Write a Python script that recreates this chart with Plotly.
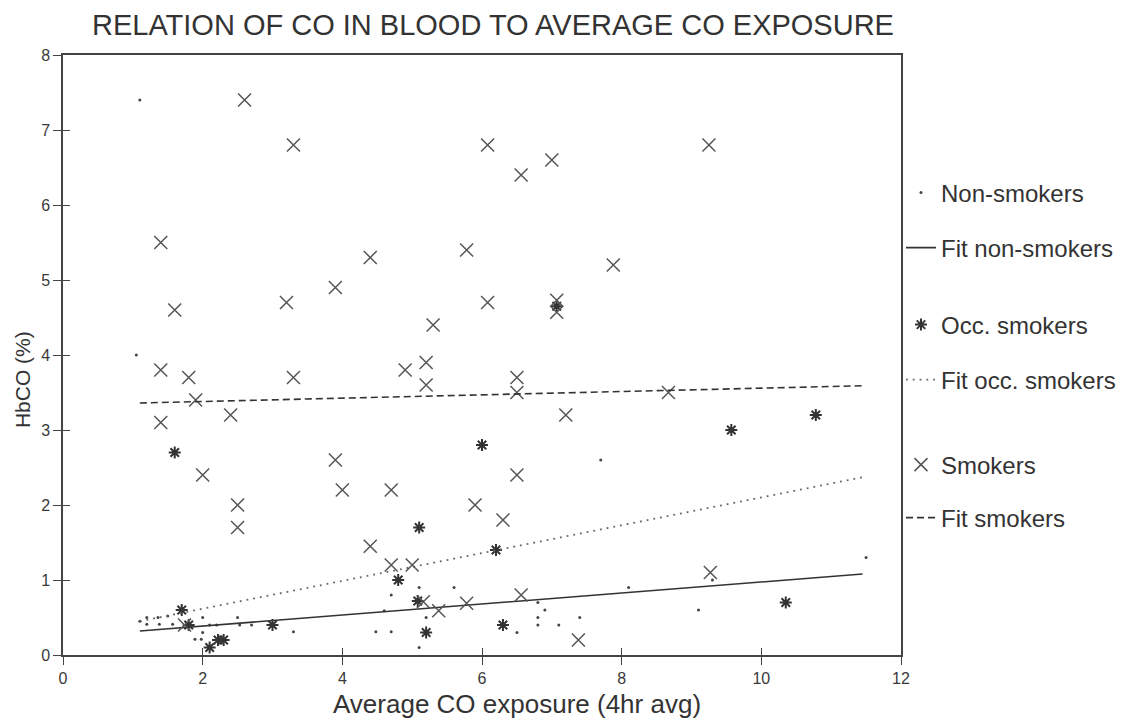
import plotly.graph_objects as go

# ---------------- data ----------------
non_x = [1.1, 1.05, 1.1, 1.2, 1.2, 1.36, 1.38, 1.5, 1.57, 2.0, 1.89, 1.98, 2.0, 2.1, 2.2,
         2.5, 2.53, 2.7, 3.3, 4.6, 4.7, 4.48, 4.7, 5.1, 5.6, 5.2, 5.1, 6.5, 6.8, 6.9,
         6.8, 6.8, 7.1, 7.4, 8.1, 9.1, 9.3, 11.5, 7.7]
non_y = [7.4, 4.0, 0.45, 0.5, 0.41, 0.5, 0.41, 0.52, 0.41, 0.5, 0.21, 0.21, 0.3, 0.4, 0.4,
         0.5, 0.4, 0.4, 0.31, 0.59, 0.8, 0.31, 0.31, 0.9, 0.9, 0.5, 0.1, 0.3, 0.7, 0.6,
         0.5, 0.4, 0.4, 0.5, 0.9, 0.6, 1.0, 1.3, 2.6]

occ_x = [1.6, 1.7, 1.8, 2.1, 2.22, 2.3, 3.0, 4.8, 5.1, 5.08, 5.2, 6.0, 6.2, 6.3, 7.07,
         9.57, 10.35, 10.78]
occ_y = [2.7, 0.6, 0.4, 0.1, 0.2, 0.2, 0.4, 1.0, 1.7, 0.72, 0.3, 2.8, 1.4, 0.4, 4.65,
         3.0, 0.7, 3.2]

smk_x = [1.4, 1.4, 1.4, 1.6, 1.8, 1.9, 2.0, 2.4, 2.5, 2.5, 2.6, 3.2, 3.3, 3.3, 3.9, 3.9,
         4.0, 4.4, 4.4, 4.7, 4.7, 4.9, 5.0, 5.2, 5.2, 5.3, 5.16, 5.38, 5.78, 5.78, 5.9,
         6.08, 6.08, 6.3, 6.5, 6.5, 6.5, 6.56, 6.56, 7.0, 7.07, 7.07, 7.2, 7.38, 7.88,
         8.67, 9.25, 9.27, 1.74]
smk_y = [5.5, 3.8, 3.1, 4.6, 3.7, 3.4, 2.4, 3.2, 2.0, 1.7, 7.4, 4.7, 6.8, 3.7, 4.9, 2.6,
         2.2, 5.3, 1.45, 2.2, 1.2, 3.8, 1.2, 3.9, 3.6, 4.4, 0.71, 0.59, 0.69, 5.4, 2.0,
         6.8, 4.7, 1.8, 3.7, 3.5, 2.4, 6.4, 0.8, 6.6, 4.73, 4.57, 3.2, 0.2, 5.2,
         3.5, 6.8, 1.1, 0.4]

fit_x = [1.1, 11.45]
fit_non = [0.32, 1.08]
fit_occ = [0.45, 2.37]
fit_smk = [3.36, 3.59]

x_ticks = [0, 2, 4, 6, 8, 10, 12]
y_ticks = [0, 1, 2, 3, 4, 5, 6, 7, 8]

# ---------------- figure ----------------
FONT = "Liberation Sans, Arial, sans-serif"
INK = "#3a3a3a"

fig = go.Figure()

fig.add_trace(go.Scatter(x=non_x, y=non_y, mode="markers", name="Non-smokers",
                         marker=dict(symbol="circle", size=3, color="#444"),
                         legend="legend"))
fig.add_trace(go.Scatter(x=fit_x, y=fit_non, mode="lines", name="Fit non-smokers",
                         line=dict(color="#333", width=1.6, dash="solid"),
                         legend="legend2"))
fig.add_trace(go.Scatter(x=occ_x, y=occ_y, mode="markers", name="Occ. smokers",
                         marker=dict(symbol="asterisk-open", size=10, color="#333",
                                     line=dict(color="#333", width=2)),
                         legend="legend3"))
fig.add_trace(go.Scatter(x=fit_x, y=fit_occ, mode="lines", name="Fit occ. smokers",
                         line=dict(color="#666", width=1.8, dash="1.8px,5px"),
                         legend="legend4"))
fig.add_trace(go.Scatter(x=smk_x, y=smk_y, mode="markers", name="Smokers",
                         marker=dict(symbol="x-thin-open", size=13, color="#555",
                                     line=dict(color="#555", width=1.5)),
                         legend="legend5"))
fig.add_trace(go.Scatter(x=fit_x, y=fit_smk, mode="lines", name="Fit smokers",
                         line=dict(color="#333", width=1.6, dash="7px,4px"),
                         legend="legend6"))
# invisible trace so the overlay (inside-tick) axes are drawn
fig.add_trace(go.Scatter(x=[], y=[], xaxis="x2", yaxis="y2", showlegend=False,
                         hoverinfo="skip"))

axis_common = dict(showgrid=False, zeroline=False, linecolor="#444", linewidth=1.5,
                   ticks="outside", ticklen=8, tickwidth=1.3, tickcolor="#444",
                   tickfont=dict(family=FONT, size=16, color=INK))

fig.update_layout(
    width=1133, height=722,
    margin=dict(l=63, r=230, t=55, b=67),
    paper_bgcolor="white", plot_bgcolor="white",
    showlegend=True,
    title=dict(text="RELATION OF CO IN BLOOD TO AVERAGE CO EXPOSURE",
               font=dict(family=FONT, size=29, color="#333"),
               x=(494 - 63) / 840, xref="paper", xanchor="center",
               y=1 - 25 / 722, yref="container", yanchor="middle"),
    xaxis=dict(range=[0, 12], tickvals=x_ticks, mirror=True, showline=True, **axis_common),
    yaxis=dict(range=[0, 8], tickvals=y_ticks, mirror=True, showline=True, **axis_common),
    xaxis2=dict(range=[0, 12], tickvals=x_ticks, overlaying="x", anchor="y2",
                showline=False, showgrid=False, zeroline=False, showticklabels=False,
                ticks="inside", ticklen=7, tickwidth=1.3, tickcolor="#444"),
    yaxis2=dict(range=[0, 8], tickvals=y_ticks, overlaying="y", anchor="x2",
                showline=False, showgrid=False, zeroline=False, showticklabels=False,
                ticks="inside", ticklen=7, tickwidth=1.3, tickcolor="#444"),
    annotations=[
        dict(text="Average CO exposure (4hr avg)", xref="paper", yref="paper",
             x=(518 - 63) / 840, y=(655 - 704) / 600, xanchor="center", yanchor="middle",
             showarrow=False, font=dict(family=FONT, size=26, color="#333")),
        dict(text="HbCO (%)", xref="paper", yref="paper", textangle=-90,
             x=(22 - 63) / 840, y=(655 - 380) / 600, xanchor="center", yanchor="middle",
             showarrow=False, font=dict(family=FONT, size=21, color="#333")),
    ],
)

leg_y = {"legend": 193, "legend2": 248, "legend3": 325,
         "legend4": 380, "legend5": 465, "legend6": 518}
for key, py in leg_y.items():
    fig.update_layout({key: dict(x=1.0, xref="paper", xanchor="left",
                                 y=(655 - py) / 600, yref="paper", yanchor="middle",
                                 bgcolor="rgba(0,0,0,0)", borderwidth=0,
                                 font=dict(family=FONT, size=24, color="#333"),
                                 itemwidth=30, visible=True)})

fig.write_html("out.html", config={"displayModeBar": False},
               post_script="document.body.style.margin='0px';")
